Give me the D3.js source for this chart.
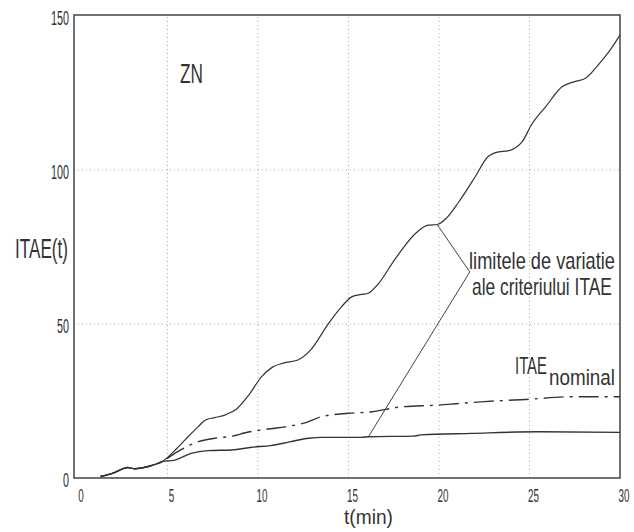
<!DOCTYPE html>
<html><head><meta charset="utf-8">
<script src="https://cdn.jsdelivr.net/npm/d3@7"></script>
<style>body{margin:0;background:#fff}text{font-family:"Liberation Sans Narrow","Liberation Sans","DejaVu Sans",sans-serif;fill:#333}</style>
</head><body><svg id="c" width="634" height="532"></svg>
<script>
// ---- data ----
const xTicks = [0, 5, 10, 15, 20, 25, 30];
const yTicks = [0, 50, 100, 150];
const tStart = [1.3, 2.0, 2.8, 3.2, 3.6, 4.2, 4.7];
const vStart = [0.5, 1.6, 3.4, 3.0, 3.3, 4.2, 5.3];
const tUpper = [5.5, 6.2, 6.7, 7.1, 7.6, 8.2, 8.8, 9.5, 10.2, 10.8, 11.4, 12.2, 12.9, 13.9, 14.6, 15.2, 15.7, 16.1, 16.6, 17.6, 18.7, 19.4, 19.9, 20.4, 21.1, 22.0, 22.7, 23.3, 23.8, 24.6, 25.1, 25.9, 26.8, 27.5, 28.1, 28.8, 29.4, 30];
const itaeUpper = [9.5, 13.8, 16.7, 18.8, 19.6, 20.5, 22.3, 27, 32.9, 36, 37.3, 38.3, 41.5, 50.2, 55.5, 58.9, 59.6, 60, 62.7, 71.3, 79.4, 82.1, 82.3, 84.3, 89.7, 97.8, 104.3, 105.9, 106.2, 109.2, 114.6, 120.6, 127, 128.7, 129.8, 134.1, 138.5, 143.8];
const tNominal = [5.4, 6.0, 6.7, 7.6, 8.6, 9.3, 10.7, 11.5, 12.8, 13.5, 15.0, 16.3, 17.9, 20.0, 21.1, 22.5, 24.8, 27.4, 30];
const itaeNominal = [8, 10, 11.8, 12.9, 13.6, 14.7, 16, 16.6, 18.3, 19.9, 21, 21.5, 23.1, 23.7, 24.2, 24.8, 25.5, 26.4, 26.4];
const tLower = [5.4, 6.3, 7.25, 8.55, 9.66, 10.7, 11.8, 12.8, 13.5, 15.7, 16.1, 18.6, 19.0, 21.8, 25.5, 30];
const itaeLower = [5.8, 8, 8.9, 9.1, 10, 10.5, 11.8, 12.9, 13.2, 13.2, 13.4, 13.6, 14.0, 14.5, 15, 14.8];
// leader line anchors (data units): upper curve point, vertex, lower curve point
const leaderT = [19.9, 21.7, 16.1];
const leaderV = [82.3, 66.9, 13.4];

// ---- chart ----
const svg = d3.select('#c');
const x = d3.scaleLinear().domain([0, 30]).range([77, 620]);
const y = d3.scaleLinear().domain([0, 150]).range([478, 16]);

const zip = (ts, vs) => tStart.map((t, i) => [t, vStart[i]]).concat(ts.map((t, i) => [t, vs[i]]));

// grid
const g = svg.append('g');
g.selectAll('.vg').data(xTicks.filter(d => d > 0 && d < 30)).join('line')
  .attr('x1', d => x(d)).attr('x2', d => x(d)).attr('y1', y(0)).attr('y2', y(150))
  .attr('stroke', '#aaa').attr('stroke-width', 1).attr('stroke-dasharray', '1,3');
g.selectAll('.hg').data(yTicks.filter(d => d > 0 && d < 150)).join('line')
  .attr('y1', d => y(d)).attr('y2', d => y(d)).attr('x1', x(0) - 3).attr('x2', x(30))
  .attr('stroke', '#aaa').attr('stroke-width', 1).attr('stroke-dasharray', '1,3');

// frame
svg.append('rect').attr('x', x(0) - 3).attr('y', y(150) - 1)
  .attr('width', x(30) - x(0) + 3).attr('height', y(0) - y(150) + 1)
  .attr('fill', 'none').attr('stroke', '#444').attr('stroke-width', 1.5);

const line = d3.line().x(d => x(d[0])).y(d => y(d[1])).curve(d3.curveMonotoneX);
svg.append('path').attr('d', line(zip(tLower, itaeLower)))
  .attr('fill', 'none').attr('stroke', '#333').attr('stroke-width', 1.4);
svg.append('path').attr('d', line(zip(tNominal, itaeNominal)))
  .attr('fill', 'none').attr('stroke', '#333').attr('stroke-width', 1.4)
  .attr('stroke-dasharray', '20,6,3,6');
svg.append('path').attr('d', line(zip(tUpper, itaeUpper)))
  .attr('fill', 'none').attr('stroke', '#333').attr('stroke-width', 1.2);

// leader lines
svg.append('path').attr('d', d3.line()(leaderT.map((t, i) => [x(t), y(leaderV[i])])))
  .attr('fill', 'none').attr('stroke', '#444').attr('stroke-width', 1);

// text helper: horizontally condensed text fitted to a width
function txt(s, px, py, size, len, anchor) {
  const t = svg.append('text').attr('font-size', size).attr('text-anchor', anchor || 'start').text(s);
  const w = t.node().getComputedTextLength() || len;
  const k = len / w;
  t.attr('transform', `translate(${px},${py}) scale(${k},1)`);
  return t;
}

// tick labels
yTicks.forEach(v => txt(String(v), 69, y(v) + 9, 21, 6 * String(v).length, 'end'));
xTicks.forEach(t => txt(String(t), x(t) + 4, 502, 18, 5.5 * String(t).length, 'middle'));

// axis titles and annotations
txt('t(min)', x(15) + 20, 524, 21, 49, 'middle');
txt('ITAE(t)', 15, 258, 28, 53, 'start');
txt('ZN', 180, 83, 28, 23, 'start');
txt('limitele de variatie', 542, 269, 23, 146, 'middle');
txt('ale criteriului ITAE', 542, 295, 23, 140, 'middle');
txt('ITAE', 515, 374, 23, 32, 'start');
txt('nominal', 549, 385, 22, 66, 'start');
</script></body></html>
